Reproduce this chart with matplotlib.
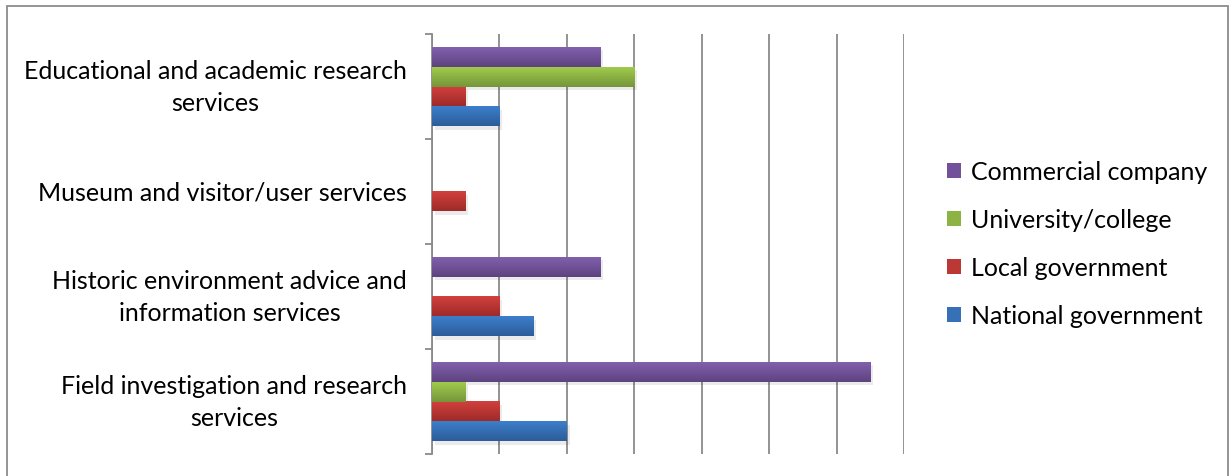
"""
Grouped horizontal bar chart: service types by organisation type.
Writes out.png (1230x477).
"""
import numpy as np
import matplotlib
matplotlib.use("Agg")
import matplotlib.pyplot as plt
from matplotlib.patches import Rectangle, Patch
from matplotlib.colors import LinearSegmentedColormap

plt.rcParams["font.family"] = ["Lato", "DejaVu Sans"]

# --- data (categories listed bottom -> top) -----------------------------
categories = [
    "Field investigation and research\nservices",
    "Historic environment advice and\ninformation services",
    "Museum and visitor/user services",
    "Educational and academic research\nservices",
]
series_names = ["National government", "Local government",
                "University/college", "Commercial company"]
national = [2.0, 1.5, 0.0, 1.0]
local = [1.0, 1.0, 0.5, 0.5]
university = [0.5, 0.0, 0.0, 3.0]
commercial = [6.5, 2.5, 0.0, 2.5]
x_max = 7

# (top colour, bottom colour) for the gradient fill of each series
colours = [("#3d7ecb", "#2c5d9a"), ("#d2403d", "#9e2b29"),
           ("#a0cb4c", "#75963a"), ("#8260ad", "#5d437f")]
legend_colours = ["#3670b6", "#bb3835", "#8cb344", "#70519a"]

fig = plt.figure(figsize=(12.3, 4.77), dpi=100)
ax = fig.add_axes([0.3512, 0.0461, 0.3838, 0.8805])

n_cat = len(categories)
n_ser = len(series_names)
bar_h = 0.19
y = np.arange(n_cat)
values = [national, local, university, commercial]

for k, (vals, (c_top, c_bot)) in enumerate(zip(values, colours)):
    offs = (k - (n_ser - 1) / 2) * bar_h
    bars = ax.barh(y + offs, vals, height=bar_h, color=c_bot, zorder=3,
                   linewidth=0)
    cmap = LinearSegmentedColormap.from_list(f"g{k}", [c_bot, c_top])
    grad = np.linspace(0, 1, 64).reshape(-1, 1)
    for b in bars:
        w = b.get_width()
        if w <= 0:
            continue
        x0, y0 = b.get_x(), b.get_y()
        h = b.get_height()
        # soft drop shadow
        ax.add_patch(Rectangle((x0 + 0.04, y0 - 0.03), w, h, color="#000000",
                               alpha=0.08, zorder=2, linewidth=0))
        ax.imshow(grad, extent=[x0, x0 + w, y0, y0 + h], origin="lower",
                  cmap=cmap, aspect="auto", zorder=4, interpolation="bilinear")

ax.set_xlim(0, x_max)
ax.set_ylim(-0.5, n_cat - 0.5)
ax.set_xticks(np.arange(0, x_max + 1))
ax.set_xticklabels([])
ax.tick_params(axis="x", length=0)
ax.grid(axis="x", color="#8a8a8a", linewidth=1.3, zorder=0)

ax.set_yticks(np.arange(-0.5, n_cat, 1.0))
ax.set_yticklabels([])
ax.set_yticks(y, minor=True)
ax.set_yticklabels(categories, minor=True, fontsize=18, ha="right", va="center",
                   multialignment="center", linespacing=1.45)
ax.tick_params(axis="y", which="major", direction="out", length=5,
               width=1.3, color="#8a8a8a")
ax.tick_params(axis="y", which="minor", length=0, pad=18)

for side in ["top", "right", "bottom"]:
    ax.spines[side].set_visible(False)
ax.spines["left"].set_color("#8a8a8a")
ax.spines["left"].set_linewidth(1.3)
ax.set_facecolor("none")

# legend (top entry = Commercial company)
handles = [Patch(facecolor=legend_colours[k], edgecolor="none", label=series_names[k])
           for k in range(n_ser - 1, -1, -1)]
fig.legend(handles=handles, loc="center left", bbox_to_anchor=(0.7515, 0.487),
           frameon=False, fontsize=18, handlelength=0.55, handleheight=0.55,
           handletextpad=0.4, labelspacing=1.0)

# outer chart border
fig.add_artist(Rectangle((0.006, -0.05), 0.992, 1.035, transform=fig.transFigure,
                         fill=False, edgecolor="#8c8c8c", linewidth=1.3))

fig.savefig("out.png", dpi=100)
